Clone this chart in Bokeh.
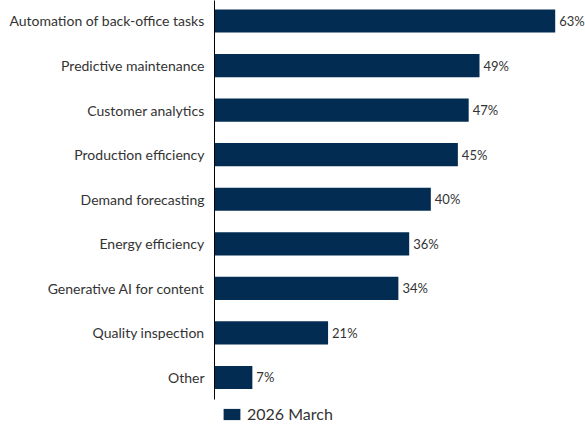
from bokeh.plotting import figure
from bokeh.models import ColumnDataSource, Legend, LegendItem, Range1d, FixedTicker
from bokeh.core.properties import value
from bokeh.embed import file_html
from bokeh.resources import INLINE

categories = [
    "Automation of back-office tasks",
    "Predictive maintenance",
    "Customer analytics",
    "Production efficiency",
    "Demand forecasting",
    "Energy efficiency",
    "Generative AI for content",
    "Quality inspection",
    "Other",
]
values = [63, 49, 47, 45, 40, 36, 34, 21, 7]
value_labels = [f"{v}%" for v in values]
series_name = "2026 March"

BAR = "#032c52"
TXT = "#333333"
FONT = "Lato"

n = len(categories)
ypos = [n - 1 - i for i in range(n)]  # top category highest
src = ColumnDataSource(dict(y=ypos, cat=categories, val=values, lab=value_labels))

p = figure(
    x_range=Range1d(0, 68.6),
    y_range=Range1d(-1.145, n - 1 + 0.46),
    width=585, height=428,
    output_backend="svg", toolbar_location=None,
    min_border_left=214, min_border_right=0, min_border_top=0, min_border_bottom=0,
)
p.outline_line_color = None
p.xgrid.visible = False
p.ygrid.visible = False
p.xaxis.visible = False

bars = p.hbar(y="y", right="val", left=0, height=0.52, source=src,
              fill_color=BAR, line_color=None)

p.text(x="val", y="y", text="lab", source=src, x_offset=4,
       text_baseline="middle", text_align="left",
       text_font=value(FONT), text_font_size="13px", text_color=TXT)

yax = p.yaxis[0]
yax.ticker = FixedTicker(ticks=ypos)
yax.major_label_overrides = {y: c for y, c in zip(ypos, categories)}
yax.bounds = (-0.5, n - 0.5)
yax.axis_line_color = "black"
yax.axis_line_width = 1
yax.major_tick_line_color = None
yax.minor_tick_line_color = None
yax.major_tick_out = 0
yax.major_tick_in = 0
yax.major_label_standoff = 10
yax.major_label_text_font = FONT
yax.major_label_text_font_size = "14px"
yax.major_label_text_color = TXT

legend = Legend(
    items=[LegendItem(label=series_name, renderers=[bars])],
    location=(7, 5), orientation="horizontal",
    glyph_width=21, glyph_height=14, label_standoff=5, label_height=14,
    label_text_font=FONT, label_text_font_size="16px", label_text_color=TXT,
    label_text_baseline="middle",
    padding=0, margin=0, border_line_color=None, background_fill_alpha=0,
)
p.add_layout(legend)

open("out.html", "w").write(file_html(p, INLINE))
